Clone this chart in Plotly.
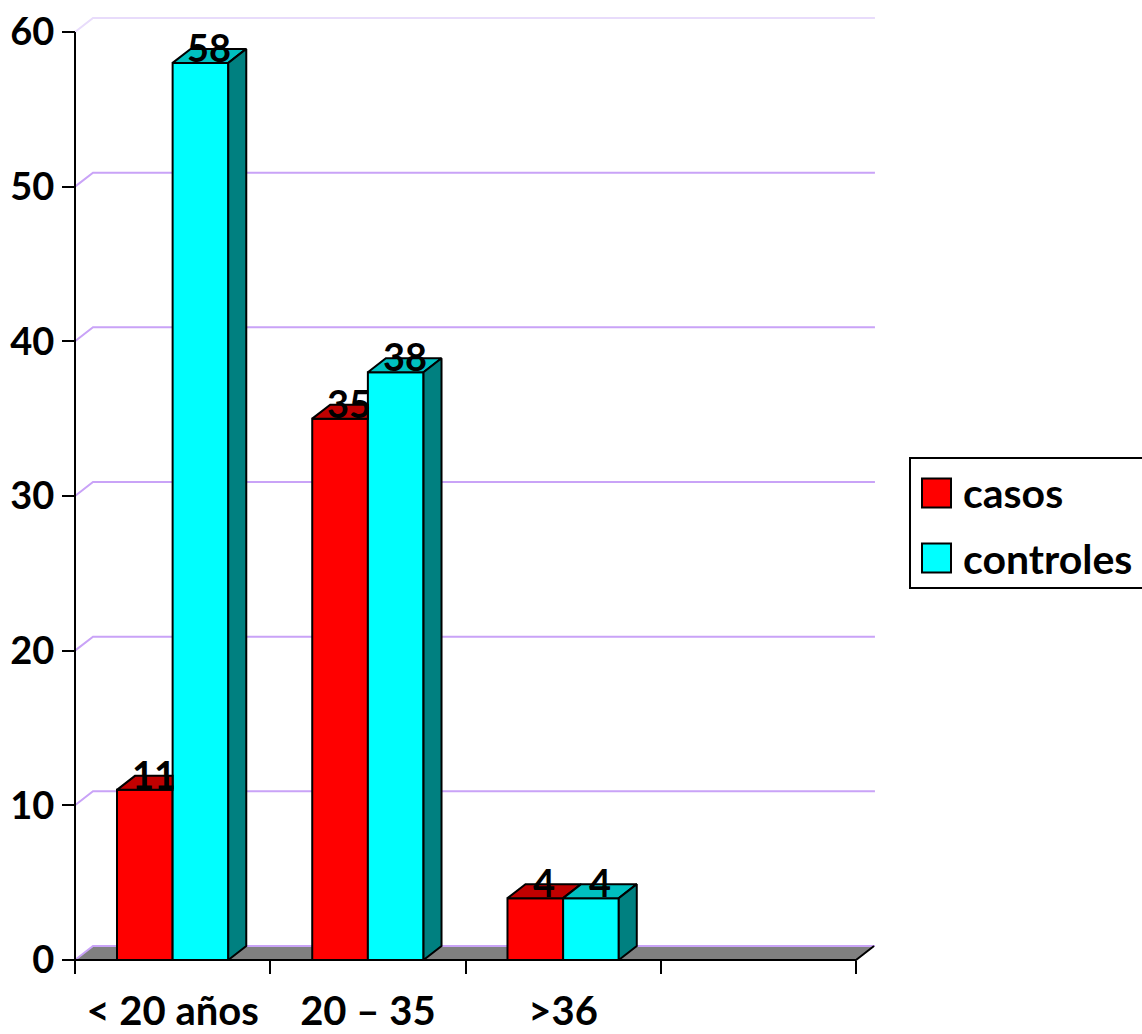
import plotly.graph_objects as go

# ---------------- data ----------------
categories = ["< 20 años", "20 – 35", ">36", ""]
casos = [11, 35, 4]
controles = [58, 38, 4]
series_names = ["casos", "controles"]
y_ticks = [0, 10, 20, 30, 40, 50, 60]

# ---------------- style ----------------
FRONT = ["#FF0000", "#00FFFF"]
TOP = ["#C00000", "#00C0C0"]
SIDE = ["#800000", "#008080"]
GRID = "#C9A3F7"
FONT = "Lato"
WEIGHT = "bold"

W, H = 1142, 1034
X0PX, XUNIT = 75.0, 195.25      # pixel of x=0, pixels per category
Y0PX, YUNIT = 960.0, 15.467     # pixel of y=0, pixels per unit
xr = [-0.03, 4.15]
yr = [-0.3, 61.3]
dx = 18 / XUNIT                  # depth offset (x, data units)
dy = 14 / YUNIT                  # depth offset (y, data units)
bw = 0.285                       # bar width
x_end = 4.097                    # right end of back wall

xdom = [(X0PX + xr[0] * XUNIT) / W, (X0PX + xr[1] * XUNIT) / W]
ydom = [1 - (Y0PX - yr[0] * YUNIT) / H, 1 - (Y0PX - yr[1] * YUNIT) / H]

series = [casos, controles]
ncat = len(categories)
xc = [i + 0.5 for i in range(len(casos))]

fig = go.Figure()

# front faces
for s, vals in enumerate(series):
    fig.add_trace(go.Bar(
        x=xc, y=vals, width=bw, offset=-bw + s * bw,
        marker=dict(color=FRONT[s], line=dict(color="black", width=2)),
        name=series_names[s], showlegend=False, hoverinfo="skip"))


def poly_trace(poly, color):
    xs = [p[0] for p in poly] + [poly[0][0]]
    ys = [p[1] for p in poly] + [poly[0][1]]
    return go.Scatter(x=xs, y=ys, mode="lines", fill="toself", fillcolor=color,
                      line=dict(color="black", width=2), showlegend=False,
                      hoverinfo="skip")


# top and side faces
for s, vals in enumerate(series):
    for i, v in enumerate(vals):
        a = xc[i] - bw + s * bw
        b = a + bw
        nxt = series[s + 1][i] if s + 1 < len(series) else None
        if nxt is None or nxt <= v:
            poly = [(a, v), (b, v), (b + dx, v + dy), (a + dx, v + dy)]
        elif nxt >= v + dy:
            poly = [(a, v), (b, v), (b, v + dy), (a + dx, v + dy)]
        else:
            t = (nxt - v) / dy
            poly = [(a, v), (b, v), (b, nxt), (b + dx * t, nxt),
                    (b + dx, v + dy), (a + dx, v + dy)]
        fig.add_trace(poly_trace(poly, TOP[s]))
        if nxt is None:
            side = [(b, 0), (b, v), (b + dx, v + dy), (b + dx, dy)]
            fig.add_trace(poly_trace(side, SIDE[s]))

shapes = []
# floor
shapes.append(dict(type="path", xref="x", yref="y", layer="below",
                   path=f"M0,0 L{ncat},0 L{ncat + dx},{dy} L{dx},{dy} Z",
                   fillcolor="#808080", line=dict(width=0)))
# back-wall gridlines
for v in y_ticks:
    col = "#E8DCFB" if v == y_ticks[-1] else GRID
    shapes.append(dict(type="path", xref="x", yref="y", layer="below",
                       path=f"M0,{v} L{dx},{v + dy} L{x_end},{v + dy}",
                       line=dict(color=col, width=2)))
# axis lines
shapes.append(dict(type="path", xref="x", yref="y", layer="below",
                   path=f"M0,0 L{ncat},0 L{ncat + dx},{dy}",
                   line=dict(color="black", width=2)))
shapes.append(dict(type="line", xref="x", yref="y", layer="below",
                   x0=0, y0=0, x1=0, y1=y_ticks[-1],
                   line=dict(color="black", width=2)))

# legend (drawn manually for large swatches)
def px(xp):
    return xp / W


def py(yp):
    return 1 - yp / H


shapes.append(dict(type="rect", xref="paper", yref="paper",
                   x0=px(910), y0=py(588), x1=px(1150), y1=py(458),
                   line=dict(color="black", width=2), fillcolor="white"))
annotations = []
leg_y = [493, 558]
for s, name in enumerate(series_names):
    cy = leg_y[s]
    shapes.append(dict(type="rect", xref="paper", yref="paper",
                       x0=px(922), y0=py(cy + 14.5), x1=px(951), y1=py(cy - 14.5),
                       line=dict(color="black", width=2), fillcolor=FRONT[s]))
    annotations.append(dict(xref="paper", yref="paper", x=px(961), y=py(cy),
                            xanchor="left", yanchor="middle", showarrow=False,
                            text=name,
                            font=dict(family=FONT, size=41, color="black", weight=WEIGHT)))

# data labels
for s, vals in enumerate(series):
    for i, v in enumerate(vals):
        a = xc[i] - bw + s * bw
        annotations.append(dict(xref="x", yref="y", x=a + bw / 2 + dx / 2, y=v,
                                xanchor="center", yanchor="bottom", yshift=-9,
                                showarrow=False, text=str(v),
                                font=dict(family=FONT, size=38, color="black", weight=WEIGHT)))

fig.update_layout(
    width=W, height=H, autosize=False,
    margin=dict(l=0, r=0, t=0, b=0),
    paper_bgcolor="white", plot_bgcolor="rgba(0,0,0,0)",
    barmode="overlay", showlegend=False,
    shapes=shapes, annotations=annotations,
    xaxis=dict(range=xr, domain=xdom, anchor="free", position=py(Y0PX),
               tickmode="array", tickvals=[i + 0.5 for i in range(ncat)],
               ticktext=categories, ticks="", showgrid=False, zeroline=False,
               showline=False, ticklabelstandoff=24, automargin=False,
               tickfont=dict(family=FONT, size=40, color="black", weight=WEIGHT),
               minor=dict(tickmode="array", tickvals=list(range(ncat + 1)),
                          ticks="outside", ticklen=13, tickwidth=2,
                          tickcolor="black", showgrid=False)),
    yaxis=dict(range=yr, domain=ydom, anchor="free", position=px(X0PX),
               tickmode="array", tickvals=y_ticks, ticks="outside", ticklen=13,
               tickwidth=2, tickcolor="black", showgrid=False, zeroline=False,
               showline=False, automargin=False,
               tickfont=dict(family=FONT, size=38, color="black", weight=WEIGHT)),
)

fig.write_html("out.html")
